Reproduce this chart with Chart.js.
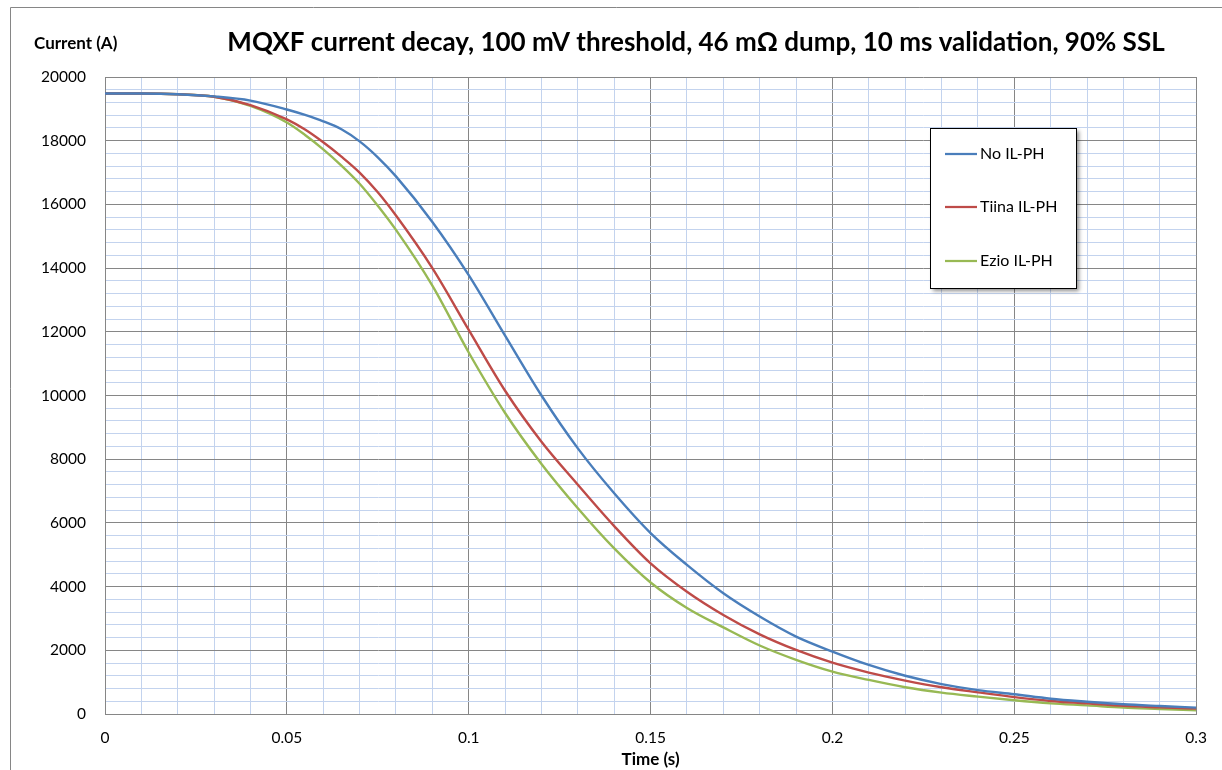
<!DOCTYPE html>
<html>
<head>
<meta charset="utf-8">
<title>MQXF current decay</title>
<script src="https://cdn.jsdelivr.net/npm/chart.js@4.4.1/dist/chart.umd.min.js"></script>
<style>
  html, body { margin: 0; padding: 0; background: #fff; }
  #wrap { width: 1222px; height: 770px; }
</style>
</head>
<body>
<div id="wrap"><canvas id="decayChart" width="1222" height="770"></canvas></div>
<script>
// Current decay after quench detection, three protection variants
const CHART_TITLE = "MQXF current decay, 100 mV threshold, 46 mΩ dump, 10 ms validation, 90% SSL";
const Y_LABEL = "Current (A)";
const X_LABEL = "Time (s)";

const SERIES_NAMES = ["No IL-PH", "Tiina IL-PH", "Ezio IL-PH"];
const SERIES_COLORS = ["#4a7ebb", "#be4b48", "#98b954"];

// time samples (s), denser around the knee
const TIME = [
  0.00, 0.01, 0.02, 0.03, 0.04, 0.05, 0.055, 0.06, 0.065, 0.07, 0.075, 0.08, 0.09,
  0.10, 0.11, 0.12, 0.13, 0.14, 0.15, 0.16, 0.17, 0.18, 0.19,
  0.20, 0.21, 0.22, 0.23, 0.24, 0.25, 0.26, 0.27, 0.28, 0.29, 0.30,
];

// current (A)
const NO_ILPH = [
  19480, 19480, 19460, 19390, 19260, 18980, 18810, 18610, 18360, 17980, 17480, 16880, 15450,
  13780, 11880, 10000, 8340, 6930, 5680, 4680, 3790, 3060, 2430,
  1960, 1540, 1200, 940, 750, 620, 480, 385, 305, 250, 200,
];
const TIINA_ILPH = [
  19480, 19480, 19460, 19380, 19120, 18670, 18350, 17950, 17500, 17000, 16380, 15650, 14000,
  12060, 10150, 8550, 7200, 5900, 4730, 3840, 3110, 2500, 2010,
  1610, 1300, 1050, 840, 680, 530, 410, 335, 255, 210, 170,
];
const EZIO_ILPH = [
  19480, 19480, 19460, 19380, 19090, 18570, 18180, 17730, 17220, 16650, 15960, 15200, 13450,
  11350, 9450, 7850, 6460, 5200, 4130, 3330, 2720, 2150, 1700,
  1330, 1070, 840, 670, 545, 430, 335, 270, 200, 157, 115,
];

const X_MAJOR = 0.05;
const Y_MAJOR = 2000;
const MAJOR_GRID = "#868686";
const MINOR_GRID = "#c3d3ee";

Chart.defaults.font.family = "Lato, 'Open Sans', sans-serif";
Chart.defaults.color = "#000";

function isMajor(v, step) {
  const r = v / step;
  return Math.abs(r - Math.round(r)) < 1e-6;
}

function toPoints(values) {
  return values.map((v, i) => ({ x: TIME[i], y: v }));
}

// title, corner axis label, outer frame and boxed legend
const decorPlugin = {
  id: "decor",
  beforeDraw(chart) {
    const ctx = chart.ctx;
    ctx.save();
    ctx.fillStyle = "#fff";
    ctx.fillRect(0, 0, chart.width, chart.height);
    ctx.restore();
  },
  afterDraw(chart) {
    const ctx = chart.ctx;
    ctx.save();

    ctx.strokeStyle = "#868686";
    ctx.lineWidth = 1;
    ctx.beginPath();
    ctx.moveTo(10.5, chart.height);
    ctx.lineTo(10.5, 7.5);
    ctx.lineTo(chart.width, 7.5);
    ctx.stroke();

    ctx.fillStyle = "#000";
    ctx.textBaseline = "middle";
    ctx.textAlign = "center";
    ctx.font = "bold 26px Lato";
    ctx.fillText(CHART_TITLE, 696, 43);

    ctx.textAlign = "left";
    ctx.font = "bold 17px Lato";
    ctx.fillText(Y_LABEL, 34, 44);

    // legend box
    const bx = 930, by = 128, bw = 146, bh = 160;
    ctx.save();
    ctx.shadowColor = "rgba(0,0,0,0.45)";
    ctx.shadowOffsetX = 3;
    ctx.shadowOffsetY = 3;
    ctx.shadowBlur = 4;
    ctx.fillStyle = "#fff";
    ctx.fillRect(bx, by, bw, bh);
    ctx.restore();
    ctx.strokeStyle = "#000";
    ctx.strokeRect(bx + 0.5, by + 0.5, bw, bh);

    const rowY = [154, 207, 261];
    ctx.font = "16px Lato";
    chart.data.datasets.forEach((ds, i) => {
      ctx.strokeStyle = ds.borderColor;
      ctx.lineWidth = 2.25;
      ctx.beginPath();
      ctx.moveTo(945, rowY[i]);
      ctx.lineTo(977, rowY[i]);
      ctx.stroke();
      ctx.fillStyle = "#000";
      ctx.fillText(ds.label, 980, rowY[i]);
    });

    ctx.restore();
  },
};

const seriesValues = [NO_ILPH, TIINA_ILPH, EZIO_ILPH];

new Chart(document.getElementById("decayChart"), {
  type: "line",
  data: {
    datasets: seriesValues.map((vals, i) => ({
      label: SERIES_NAMES[i],
      data: toPoints(vals),
      borderColor: SERIES_COLORS[i],
      backgroundColor: SERIES_COLORS[i],
      borderWidth: 2.4,
      pointRadius: 0,
      cubicInterpolationMode: "monotone",
      fill: false,
    })),
  },
  options: {
    responsive: false,
    animation: false,
    devicePixelRatio: 1,
    layout: { padding: { top: 77, right: 23, left: 0, bottom: 0 } },
    plugins: {
      legend: { display: false },
      title: { display: false },
      tooltip: { enabled: false },
    },
    scales: {
      x: {
        type: "linear",
        min: 0,
        max: 0.3,
        afterFit: (scale) => { scale.height = 56; },
        ticks: {
          stepSize: 0.01,
          autoSkip: false,
          maxRotation: 0,
          maxTicksLimit: 100,
          padding: 15,
          font: { size: 15.5 },
          callback: (v) => (isMajor(v, X_MAJOR) ? String(Math.round(v * 100) / 100) : ""),
        },
        grid: {
          drawTicks: false,
          color: (c) => (isMajor(c.tick.value, X_MAJOR) ? MAJOR_GRID : MINOR_GRID),
        },
        border: { color: MAJOR_GRID },
        title: {
          display: true,
          text: X_LABEL,
          font: { size: 17, weight: "bold" },
          padding: { top: 2, bottom: 0 },
        },
      },
      y: {
        min: 0,
        max: 20000,
        afterFit: (scale) => { scale.width = 105; },
        ticks: {
          stepSize: 400,
          maxTicksLimit: 100,
          autoSkip: false,
          padding: 19,
          font: { size: 15.5 },
          callback: (v) => (isMajor(v, Y_MAJOR) ? String(v) : ""),
        },
        grid: {
          drawTicks: false,
          color: (c) => (isMajor(c.tick.value, Y_MAJOR) ? MAJOR_GRID : MINOR_GRID),
        },
        border: { color: MAJOR_GRID },
      },
    },
  },
  plugins: [decorPlugin],
});
</script>
</body>
</html>
